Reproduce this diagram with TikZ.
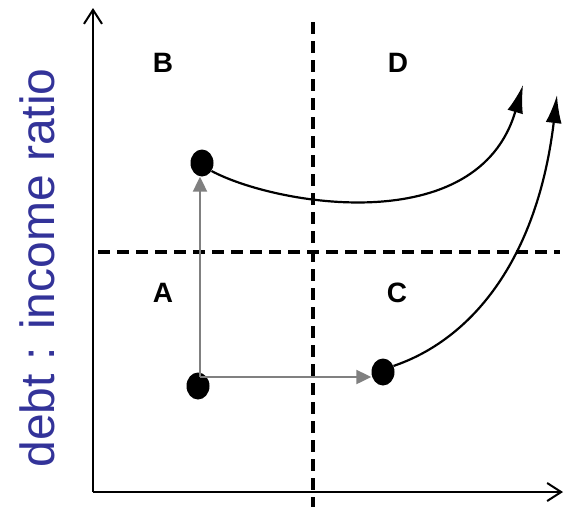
\documentclass[tikz,border=0pt]{standalone}
\usepackage{fontspec}
\setmainfont{Liberation Sans}
\usetikzlibrary{arrows.meta,shapes.geometric}
\definecolor{axisblue}{RGB}{51,51,153}
\definecolor{arrowgray}{RGB}{128,128,128}
\begin{document}
\begin{tikzpicture}[x=1pt,y=-1pt,
  axis/.style={line width=2pt,-{Straight Barb[length=14pt,width=18pt,line width=2pt]}},
  divider/.style={line width=3.2pt,dash pattern=on 12pt off 7pt},
  quad/.style={font=\bfseries\fontsize{28}{28}\selectfont},
  dot/.style={ellipse,fill=black,minimum width=23pt,minimum height=27pt,inner sep=0pt},
  grayarrow/.style={arrowgray,line width=2.2pt,-{Triangle[length=15pt,width=14pt]}},
  curve/.style={line width=2.2pt,-{Latex[length=28pt,width=16pt]}}]
\useasboundingbox (0,0) rectangle (564,507);
% axes
\coordinate (origin) at (93,492);
\coordinate (ytip) at (93,8);
\coordinate (xtip) at (563,492);
\draw[axis] (origin) -- (ytip);
\draw[axis] (origin) -- (xtip);
% dividers
\coordinate (vtop) at (313,22);
\coordinate (vbot) at (313,507);
\coordinate (hleft) at (98,252);
\coordinate (hright) at (560,252);
\draw[divider] (vtop) -- (vbot);
\draw[divider] (hleft) -- (hright);
% quadrant labels
\node[quad] (B) at (163,63) {B};
\node[quad] (D) at (398,63) {D};
\node[quad] (A) at (163,293) {A};
\node[quad] (C) at (397,293) {C};
% y label
\node[rotate=90,text=axisblue,font=\fontsize{48}{48}\selectfont] (ylabel) at (37,268) {debt : income ratio};
% dots
\node[dot] (d1) at (202,163) {};
\node[dot] (d2) at (198,386) {};
\node[dot] (d3) at (383,372) {};
% gray arrows
\coordinate (corner) at (200,377);
\draw[grayarrow] (corner) -- (corner |- d1.south);
\draw[grayarrow] (corner) -- (corner -| d3.west);
% curves
\coordinate (t1) at (523,85);
\coordinate (t2) at (557,95);
\draw[curve] (d1.-40) .. controls (275,205) and (478,240) .. (t1);
\draw[curve] (d3.30) .. controls (470,340) and (537,262) .. (t2);
\end{tikzpicture}
\end{document}
